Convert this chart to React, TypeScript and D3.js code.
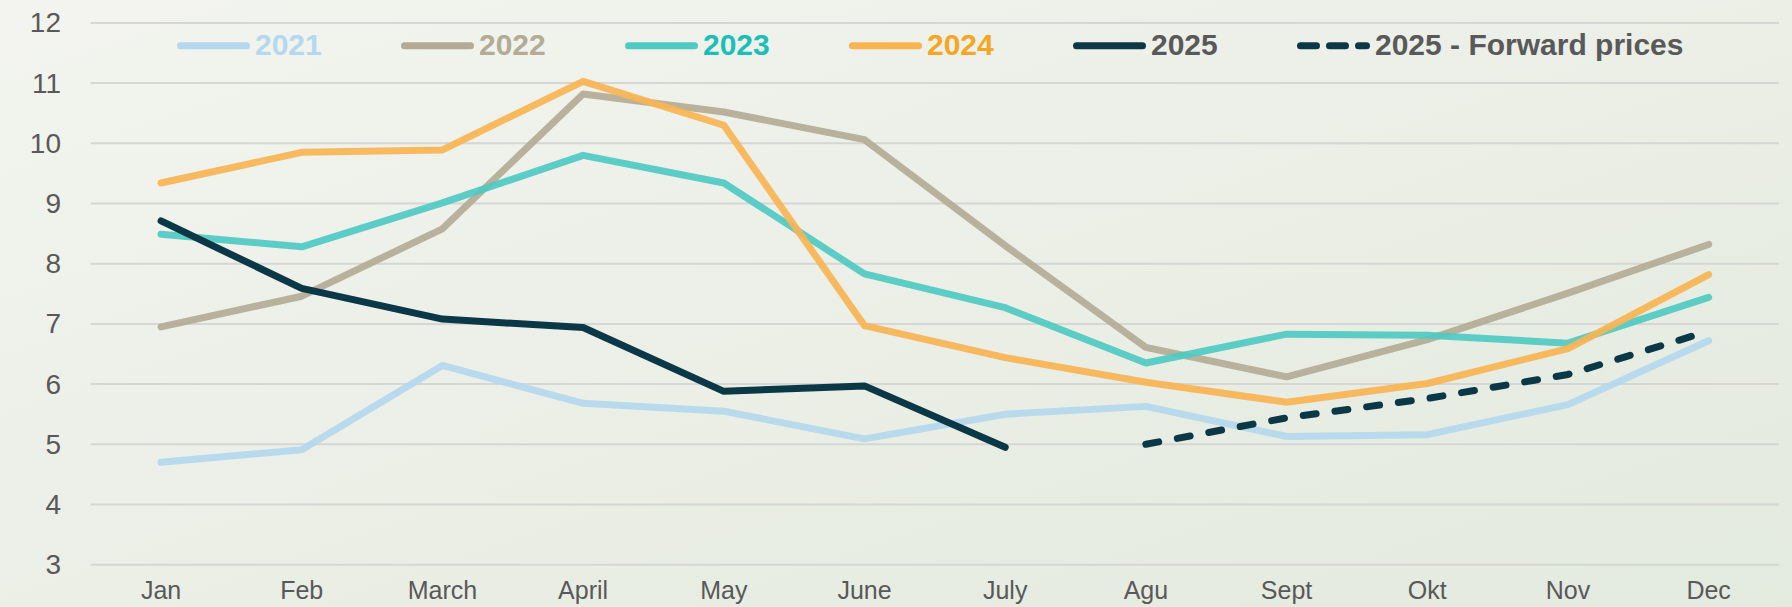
import React from "react";
import * as d3 from "d3";

const months = ["Jan", "Feb", "March", "April", "May", "June", "July", "Agu", "Sept", "Okt", "Nov", "Dec"];
const yTicks = [3, 4, 5, 6, 7, 8, 9, 10, 11, 12];

const v2021 = [4.7, 4.91, 6.31, 5.68, 5.55, 5.09, 5.5, 5.63, 5.13, 5.16, 5.66, 6.72];
const v2022 = [6.95, 7.46, 8.58, 10.82, 10.52, 10.06, 8.3, 6.61, 6.12, 6.74, 7.51, 8.32];
const v2023 = [8.49, 8.28, 9.01, 9.8, 9.34, 7.83, 7.27, 6.35, 6.83, 6.81, 6.68, 7.44];
const v2024 = [9.34, 9.85, 9.89, 11.03, 10.3, 6.97, 6.44, 6.03, 5.7, 6.01, 6.59, 7.82];
const v2025 = [8.71, 7.59, 7.08, 6.94, 5.88, 5.97, 4.95, null, null, null, null, null];
const vForward = [null, null, null, null, null, null, null, 5.0, 5.44, 5.76, 6.16, 6.88];

const seriesNames = ["2021", "2022", "2023", "2024", "2025", "2025 - Forward prices"];

const W = 1792;
const H = 607;

const series = [
  { name: seriesNames[0], values: v2021, color: "#b4d8ee", text: "#b4d8ee", opacity: 0.92, dash: null },
  { name: seriesNames[1], values: v2022, color: "#b3ab95", text: "#b3ab95", opacity: 0.92, dash: null },
  { name: seriesNames[2], values: v2023, color: "#4fcac2", text: "#1bbfb7", opacity: 0.92, dash: null },
  { name: seriesNames[3], values: v2024, color: "#f9b452", text: "#f5a623", opacity: 0.92, dash: null },
  { name: seriesNames[4], values: v2025, color: "#0b3847", text: "#595959", opacity: 1, dash: null },
  { name: seriesNames[5], values: vForward, color: "#0b3847", text: "#595959", opacity: 1, dash: "13 19" },
];

export default function App() {
  const x = d3.scalePoint<string>().domain(months).range([90.7, 1779]).padding(0.5);
  const y = d3.scaleLinear().domain([3, 12]).range([564.7, 22.9]);

  const line = d3
    .line<number | null>()
    .defined((d) => d != null)
    .x((_, i) => x(months[i]) as number)
    .y((d) => y(d as number));

  const font = "'Liberation Sans', Arial, sans-serif";

  return (
    <svg
      width={W}
      height={H}
      style={{ position: "fixed", top: 0, left: 0 }}
      fontFamily={font}
    >
      <defs>
        <linearGradient id="bg" x1="0" y1="0" x2="1" y2="1">
          <stop offset="0%" stopColor="#f3f4ef" />
          <stop offset="100%" stopColor="#e3eade" />
        </linearGradient>
      </defs>
      <rect width={W} height={H} fill="url(#bg)" />

      {/* grid + y labels */}
      {yTicks.map((t) => (
        <g key={t}>
          <line x1={90.7} x2={1779} y1={y(t)} y2={y(t)} stroke="#d6d6d4" strokeWidth={2} />
          <text x={61} y={y(t)} textAnchor="end" dominantBaseline="central" fontSize={28} fill="#595959">
            {t}
          </text>
        </g>
      ))}

      {/* x labels */}
      {months.map((m) => (
        <text key={m} x={x(m)} y={599} textAnchor="middle" fontSize={25} fill="#595959">
          {m}
        </text>
      ))}

      {/* lines */}
      {series.map((s) => (
        <path
          key={s.name}
          d={line(s.values) || ""}
          fill="none"
          stroke={s.color}
          strokeOpacity={s.opacity}
          strokeWidth={7}
          strokeLinecap="round"
          strokeLinejoin="round"
          strokeDasharray={s.dash || undefined}
        />
      ))}

      {/* legend */}
      {series.map((s, i) => {
        const lx = 177 + i * 224;
        return (
          <g key={"lg" + s.name}>
            <line
              x1={lx + 3.5}
              x2={lx + 69.5}
              y1={45.7}
              y2={45.7}
              stroke={s.color}
              strokeWidth={7}
              strokeLinecap="round"
              strokeDasharray={s.dash ? "16 13" : undefined}
            />
            <text x={lx + 78} y={55} fontSize={30} fontWeight="bold" fill={s.text}>
              {s.name}
            </text>
          </g>
        );
      })}
    </svg>
  );
}
